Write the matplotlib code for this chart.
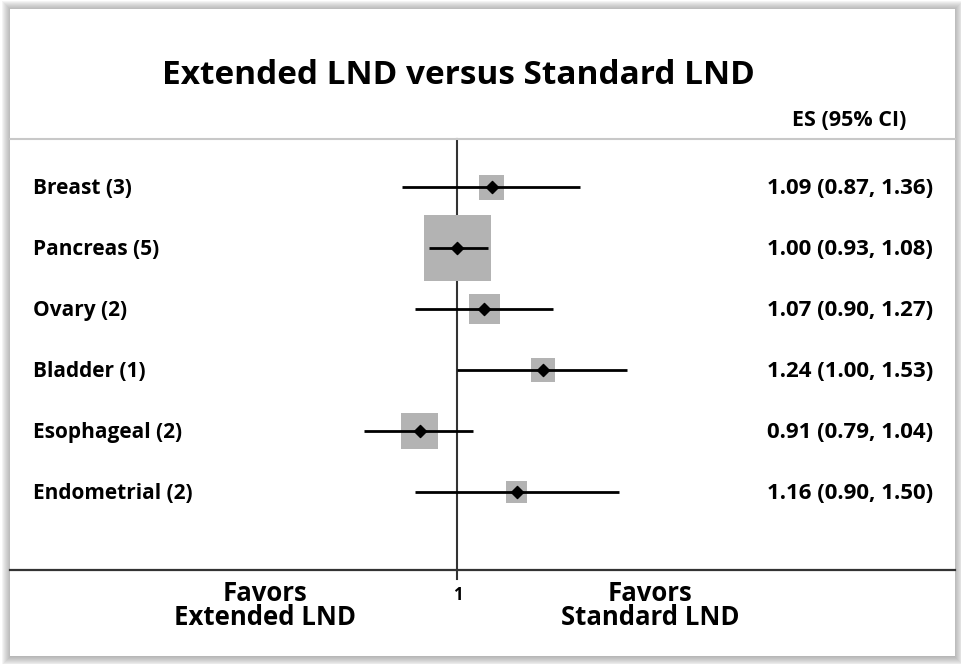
import numpy as np
import matplotlib.pyplot as plt
from matplotlib.patches import Rectangle
from matplotlib.transforms import blended_transform_factory

plt.rcParams["font.family"] = ["Open Sans", "DejaVu Sans"]
plt.rcParams["font.weight"] = "bold"

studies = ["Breast (3)", "Pancreas (5)", "Ovary (2)", "Bladder (1)",
           "Esophageal (2)", "Endometrial (2)"]
es = [1.09, 1.00, 1.07, 1.24, 0.91, 1.16]
lo = [0.87, 0.93, 0.90, 1.00, 0.79, 0.90]
hi = [1.36, 1.08, 1.27, 1.53, 1.04, 1.50]
weights = [7.3, 52.5, 11.2, 7.3, 16.0, 5.7]  # % weight, box area

W, H = 962, 664
fig = plt.figure(figsize=(W / 100, H / 100), dpi=100)
fig.patch.set_facecolor("white")

# frame with soft shadow
fx0, fy0, fx1, fy1 = 10, 9, 955, 656
for k in range(9, 0, -1):
    fig.patches.append(Rectangle(((fx0 - k + 1) / W, 1 - (fy1 + k) / H),
                                 (fx1 - fx0 + 2 * k - 2) / W, (fy1 - fy0 + 2 * k - 1) / H,
                                 transform=fig.transFigure, facecolor="#707070",
                                 alpha=0.07, edgecolor="none", zorder=0))
fig.patches.append(Rectangle((fx0 / W, 1 - fy1 / H), (fx1 - fx0) / W, (fy1 - fy0) / H,
                             transform=fig.transFigure, facecolor="white",
                             edgecolor="none", zorder=0.5))

# axes spans the plot band between the two horizontal rules
ay0, ay1 = 139, 570
ax = fig.add_axes([fx0 / W, 1 - ay1 / H, (fx1 - fx0) / W, (ay1 - ay0) / H])
ax.set_zorder(2)
ax.set_facecolor("none")
ax.set_xscale("log")
ax.set_xlim(0.325, 3.49)
ax.set_ylim(6.28, -0.79)
ax.set_xticks([])
ax.set_yticks([])
ax.minorticks_off()
for s in ["left", "right"]:
    ax.spines[s].set_visible(False)
ax.spines["top"].set_color("#c8c8c8")
ax.spines["top"].set_linewidth(1.5)
ax.spines["bottom"].set_color("#333333")
ax.spines["bottom"].set_linewidth(1.6)

ax.axvline(1, ymin=-0.02, ymax=1, color="#333333", lw=1.5, clip_on=False, zorder=1)

y = np.arange(len(studies))
box = 9.2 * np.sqrt(weights) * 0.72  # marker size in points
ax.scatter(es, y, marker="s", s=box ** 2, color="#b3b3b3", linewidths=0, zorder=2)
ax.hlines(y, lo, hi, color="black", lw=2, zorder=3)
ax.scatter(es, y, marker="D", s=38, color="black", zorder=4)

tr = blended_transform_factory(ax.transAxes, ax.transData)
for i in range(len(studies)):
    ax.text(0.0243, y[i] + 0.02, studies[i], transform=tr, ha="left", va="center",
            fontsize=15)
    ax.text(0.977, y[i] + 0.02, f"{es[i]:.2f} ({lo[i]:.2f}, {hi[i]:.2f})", transform=tr,
            ha="right", va="center", fontsize=16)

fig.text(458 / W, 1 - 75 / H, "Extended LND versus Standard LND", ha="center",
         va="center", fontsize=24)
fig.text(849 / W, 1 - 120 / H, "ES (95% CI)", ha="center", va="center", fontsize=15.5)

trb = blended_transform_factory(ax.transData, ax.transAxes)
ax.text(1, -0.057, "1", transform=trb, ha="center", va="center", fontsize=12)
ax.text(0.27, -0.083, "Favors\nExtended LND", transform=ax.transAxes, ha="center",
        va="center", fontsize=18.5, linespacing=0.85)
ax.text(0.677, -0.083, "Favors\nStandard LND", transform=ax.transAxes, ha="center",
        va="center", fontsize=18.5, linespacing=0.85)

fig.savefig("out.png", dpi=100)
